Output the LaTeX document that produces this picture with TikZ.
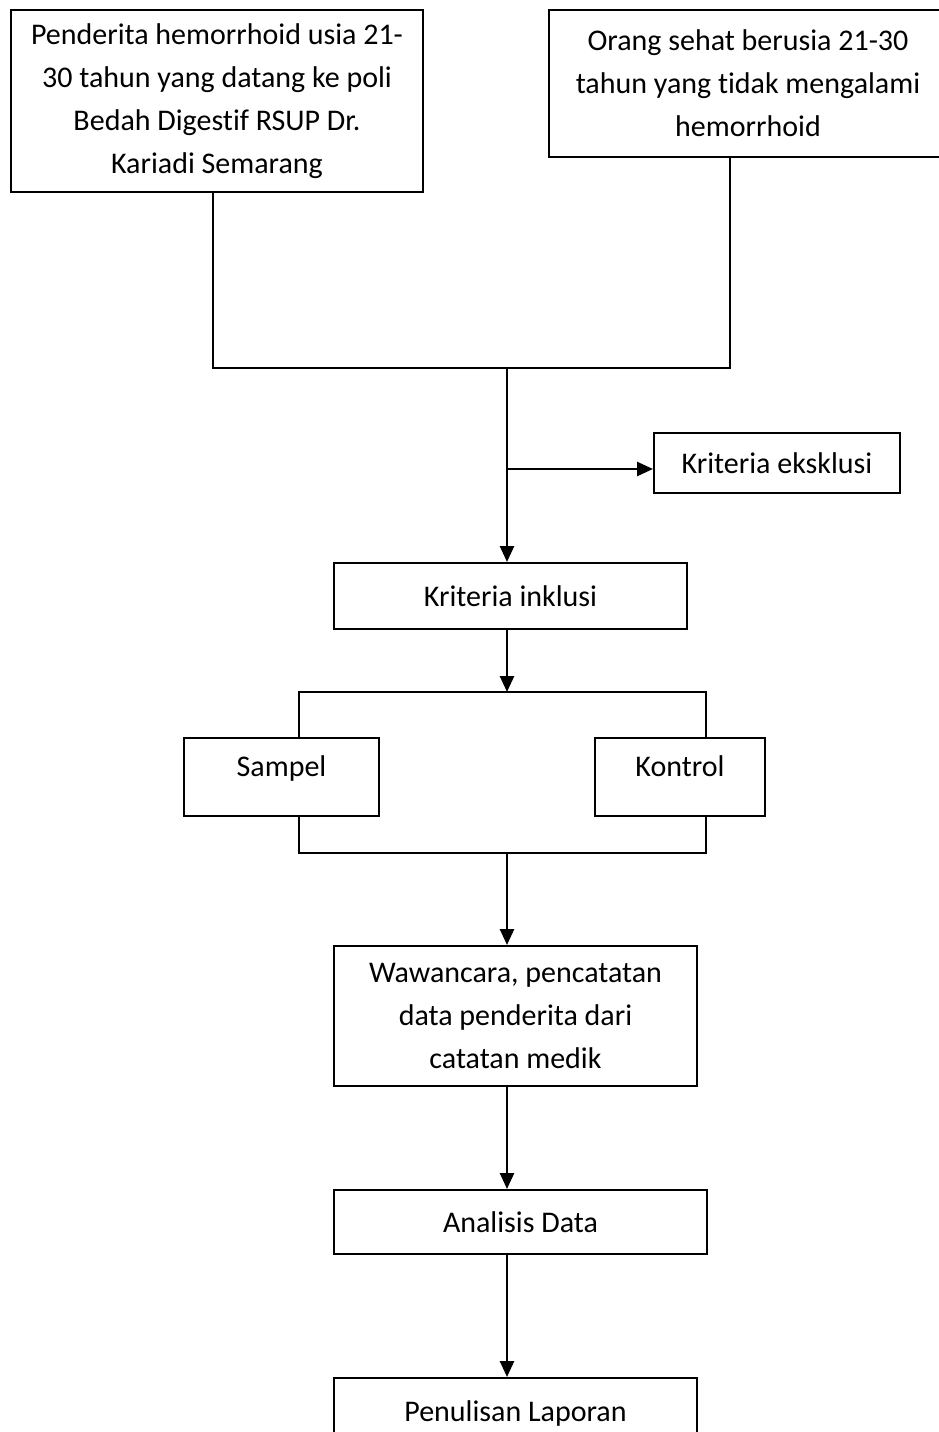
\documentclass[tikz,border=0pt]{standalone}
\usepackage{fontspec}
\setmainfont{Carlito}[Ligatures=NoCommon]
\usepackage{tikz}
\usetikzlibrary{arrows.meta, positioning, calc}

\begin{document}
\begin{tikzpicture}[
    x=1pt, y=-1pt,
    kotak/.style={draw, line width=2pt, align=center, inner sep=0pt,
        font=\fontsize{30}{43}\selectfont},
    garis/.style={line width=2.6pt},
    panah/.style={garis, -{Triangle[length=16pt, width=14pt]}}
    ]
    \useasboundingbox (0,0) rectangle (939,1432);

    \node[kotak, minimum width=412pt, minimum height=182pt] (penderita) at (217,101)
        {Penderita hemorrhoid usia 21-\\30 tahun yang datang ke poli\\Bedah Digestif RSUP Dr.\\Kariadi Semarang};
    \node[kotak, minimum width=398pt, minimum height=147pt] (sehat) at (748,83.5)
        {Orang sehat berusia 21-30\\tahun yang tidak mengalami\\hemorrhoid};
    \node[kotak, minimum width=246pt, minimum height=60pt] (eksklusi) at (777,463) {Kriteria eksklusi};
    \node[kotak, minimum width=353pt, minimum height=66pt] (inklusi) at (510.5,596) {Kriteria inklusi};
    \node[kotak, minimum width=195pt, minimum height=78pt, text depth=22pt] (sampel) at (281.5,777) {Sampel};
    \node[kotak, minimum width=170pt, minimum height=78pt, text depth=22pt] (kontrol) at (680,777) {Kontrol};
    \node[kotak, minimum width=363pt, minimum height=140pt] (wawancara) at (515.5,1016)
        {Wawancara, pencatatan\\data penderita dari\\catatan medik};
    \node[kotak, minimum width=373pt, minimum height=64pt] (analisis) at (520.5,1222) {Analisis Data};
    \node[kotak, minimum width=363pt, minimum height=70pt] (laporan) at (515.5,1413) {Penulisan Laporan};

    \coordinate (gabung) at (507,368);
    \coordinate (kanan) at (730,368);
    \coordinate (cabang) at (507,469);
    \coordinate (ki) at (299,692);
    \coordinate (ka) at (706,692);
    \coordinate (kib) at (299,853);
    \coordinate (kab) at (706,853);

    % populasi
    \draw[garis] (penderita.south -| 213,0) |- (kanan) -- (kanan |- sehat.south);
    \draw[panah] (gabung) -- (gabung |- inklusi.north);
    \draw[panah] (cabang) -- (cabang -| eksklusi.west);

    % sampel dan kontrol
    \draw[panah] (gabung |- inklusi.south) -- (gabung |- ki);
    \draw[garis] (ki |- sampel.north) -- (ki) -- (ka) -- (ka |- kontrol.north);
    \draw[garis] (kib |- sampel.south) -- (kib) -- (kab) -- (kab |- kontrol.south);

    \draw[panah] (gabung |- kib) -- (gabung |- wawancara.north);
    \draw[panah] (gabung |- wawancara.south) -- (gabung |- analisis.north);
    \draw[panah] (gabung |- analisis.south) -- (gabung |- laporan.north);
\end{tikzpicture}
\end{document}
